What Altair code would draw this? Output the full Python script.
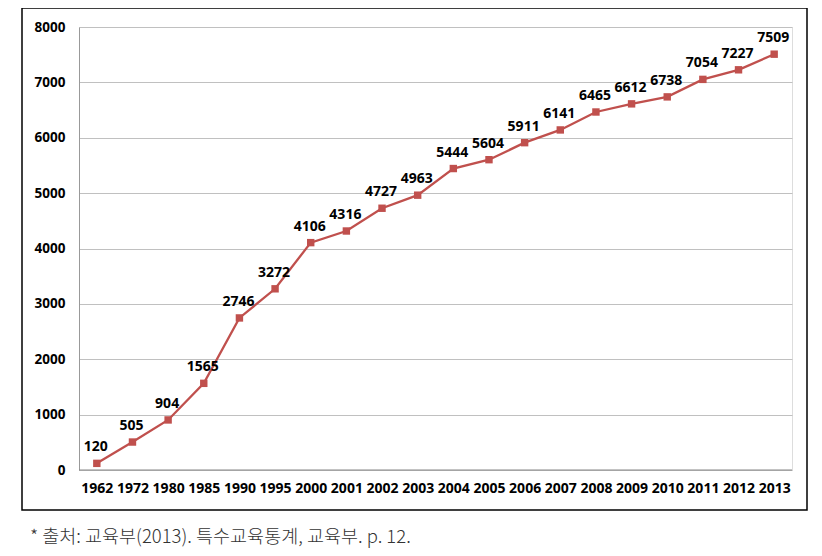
import altair as alt
import pandas as pd

years = ["1962", "1972", "1980", "1985", "1990", "1995", "2000", "2001", "2002", "2003",
         "2004", "2005", "2006", "2007", "2008", "2009", "2010", "2011", "2012", "2013"]
values = [120, 505, 904, 1565, 2746, 3272, 4106, 4316, 4727, 4963,
          5444, 5604, 5911, 6141, 6465, 6612, 6738, 7054, 7227, 7509]
y_ticks = [0, 1000, 2000, 3000, 4000, 5000, 6000, 7000, 8000]
footnote = "* 출처: 교육부(2013). 특수교육통계, 교육부. p. 12."

df = pd.DataFrame({"year": years, "value": values})

LINE = "#C0504D"
FONT = "Noto Sans"

x_enc = alt.X("year:N", sort=years, title=None,
              scale=alt.Scale(paddingInner=0, paddingOuter=0.5, align=0.5),
              axis=alt.Axis(labelAngle=0, labelFont=FONT, labelFontWeight="bold",
                            labelFontSize=14, labelColor="#000", labelPadding=11,
                            ticks=False, domain=False, grid=False))
y_enc = alt.Y("value:Q", title=None,
              scale=alt.Scale(domain=[0, 8000], nice=False),
              axis=alt.Axis(values=y_ticks, format="d", labelFont=FONT, labelFontWeight="bold",
                            labelFontSize=13.5, labelColor="#000", labelPadding=14,
                            ticks=False, domain=True, domainColor="#999999",
                            grid=True, gridColor="#C0C0C0", gridWidth=1))

base = alt.Chart(df)

frame = alt.Chart(pd.DataFrame({"a": [0]})).mark_rect(
    fill=None, stroke="#000", strokeWidth=1.5
).encode(x=alt.value(-57), x2=alt.value(728), y=alt.value(-19), y2=alt.value(483))

baseline = alt.Chart(pd.DataFrame({"a": [0]})).mark_rule(color="#888888", strokeWidth=1.2).encode(
    x=alt.value(0), x2=alt.value(713), y=alt.value(443))

line = base.mark_line(color=LINE, strokeWidth=2.3).encode(x=x_enc, y=y_enc)
pts = base.mark_point(shape="square", filled=True, color=LINE, size=55, opacity=1).encode(
    x=alt.X("year:N", sort=years), y="value:Q")
labels = base.mark_text(font=FONT, fontWeight="bold", fontSize=14, color="#000",
                        baseline="alphabetic", dy=-12, dx=-1).encode(
    x=alt.X("year:N", sort=years), y="value:Q", text="value:Q")

note = alt.Chart(pd.DataFrame({"t": [footnote]})).mark_text(
    font="Noto Sans CJK KR", fontSize=18.5, color="#333333", align="left",
    baseline="middle", fontWeight=300
).encode(x=alt.value(-49), y=alt.value(510), text="t:N")

chart = alt.layer(frame, line, baseline, pts, labels, note).properties(
    width=713, height=443,
    autosize=alt.AutoSizeParams(type="none"),
    padding={"left": 71, "top": 19, "right": 22, "bottom": 80},
).configure_view(stroke=None).configure(background="white")

chart.save("out.html", embed_options={"renderer": "svg", "actions": False})
